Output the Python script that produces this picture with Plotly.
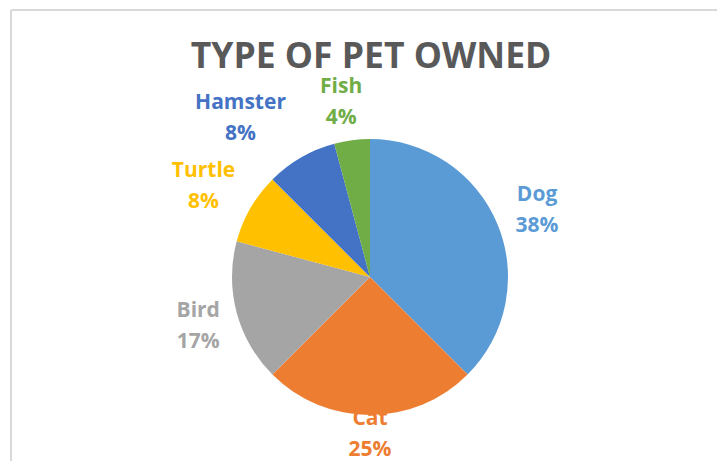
import math
import plotly.graph_objects as go

# Survey counts of pets owned
pets = ["Dog", "Cat", "Bird", "Turtle", "Hamster", "Fish"]
counts = [9, 6, 4, 2, 2, 1]
colors = ["#5B9BD5", "#ED7D31", "#A5A5A5", "#FFC000", "#4472C4", "#70AD47"]

W, H = 717, 461
CX, CY, R = 370, 277, 138          # pie centre and radius in pixels
LABEL_R = 183                      # distance of data labels from the centre
LINE_GAP = 31                      # vertical distance between name and percentage
# small per-label adjustments (dx, dy) in pixels
label_nudge = [(-2, 4), (0, -25), (5, 3), (-8, 2), (-38, 1), (-5, 8)]

total = sum(counts)
pcts = [round(100 * c / total) for c in counts]

# label anchors follow each slice's mid-angle (clockwise from 12 o'clock)
lx, ly = [], []
cum = 0
for c, (dx, dy) in zip(counts, label_nudge):
    mid = (cum + c / 2) / total * 2 * math.pi
    cum += c
    lx.append(CX + LABEL_R * math.sin(mid) + dx)
    ly.append(CY - LABEL_R * math.cos(mid) + dy)

fig = go.Figure()

# data labels on a hidden pixel-scaled axis so the pie is drawn over them
label_font = dict(family="Open Sans", size=21, color=colors)
fig.add_trace(go.Scatter(
    x=lx, y=[y - LINE_GAP / 2 for y in ly], mode="text",
    text=[f"<b>{n}</b>" for n in pets],
    textposition="middle center", textfont=label_font,
    hoverinfo="skip", showlegend=False,
))
fig.add_trace(go.Scatter(
    x=lx, y=[y + LINE_GAP / 2 for y in ly], mode="text",
    text=[f"<b>{p}%</b>" for p in pcts],
    textposition="middle center", textfont=label_font,
    hoverinfo="skip", showlegend=False,
))

fig.add_trace(go.Pie(
    labels=pets, values=counts, sort=False, direction="clockwise",
    rotation=0, textinfo="none", showlegend=False,
    marker=dict(colors=colors, line=dict(width=0)),
    domain=dict(x=[(CX - R) / W, (CX + R) / W],
                y=[1 - (CY + R) / H, 1 - (CY - R) / H]),
))

fig.update_layout(
    width=W, height=H,
    margin=dict(l=0, r=0, t=0, b=0),
    paper_bgcolor="white", plot_bgcolor="white",
    xaxis=dict(range=[0, W], visible=False, fixedrange=True),
    yaxis=dict(range=[H, 0], visible=False, fixedrange=True),
    title=dict(
        text="<b>TYPE OF PET OWNED</b>",
        x=(CX + 1) / W, xanchor="center",
        y=1 - 56 / H, yanchor="middle",
        font=dict(family="Open Sans", size=35.5, color="#595959"),
    ),
    shapes=[
        dict(type="line", xref="paper", yref="paper",
             x0=11 / W, x1=1.05, y0=1 - 10 / H, y1=1 - 10 / H,
             line=dict(color="#D9D9D9", width=2)),
        dict(type="line", xref="paper", yref="paper",
             x0=11 / W, x1=11 / W, y0=1 - 10 / H, y1=-0.05,
             line=dict(color="#D9D9D9", width=2)),
    ],
)

fig.write_html("out.html")
